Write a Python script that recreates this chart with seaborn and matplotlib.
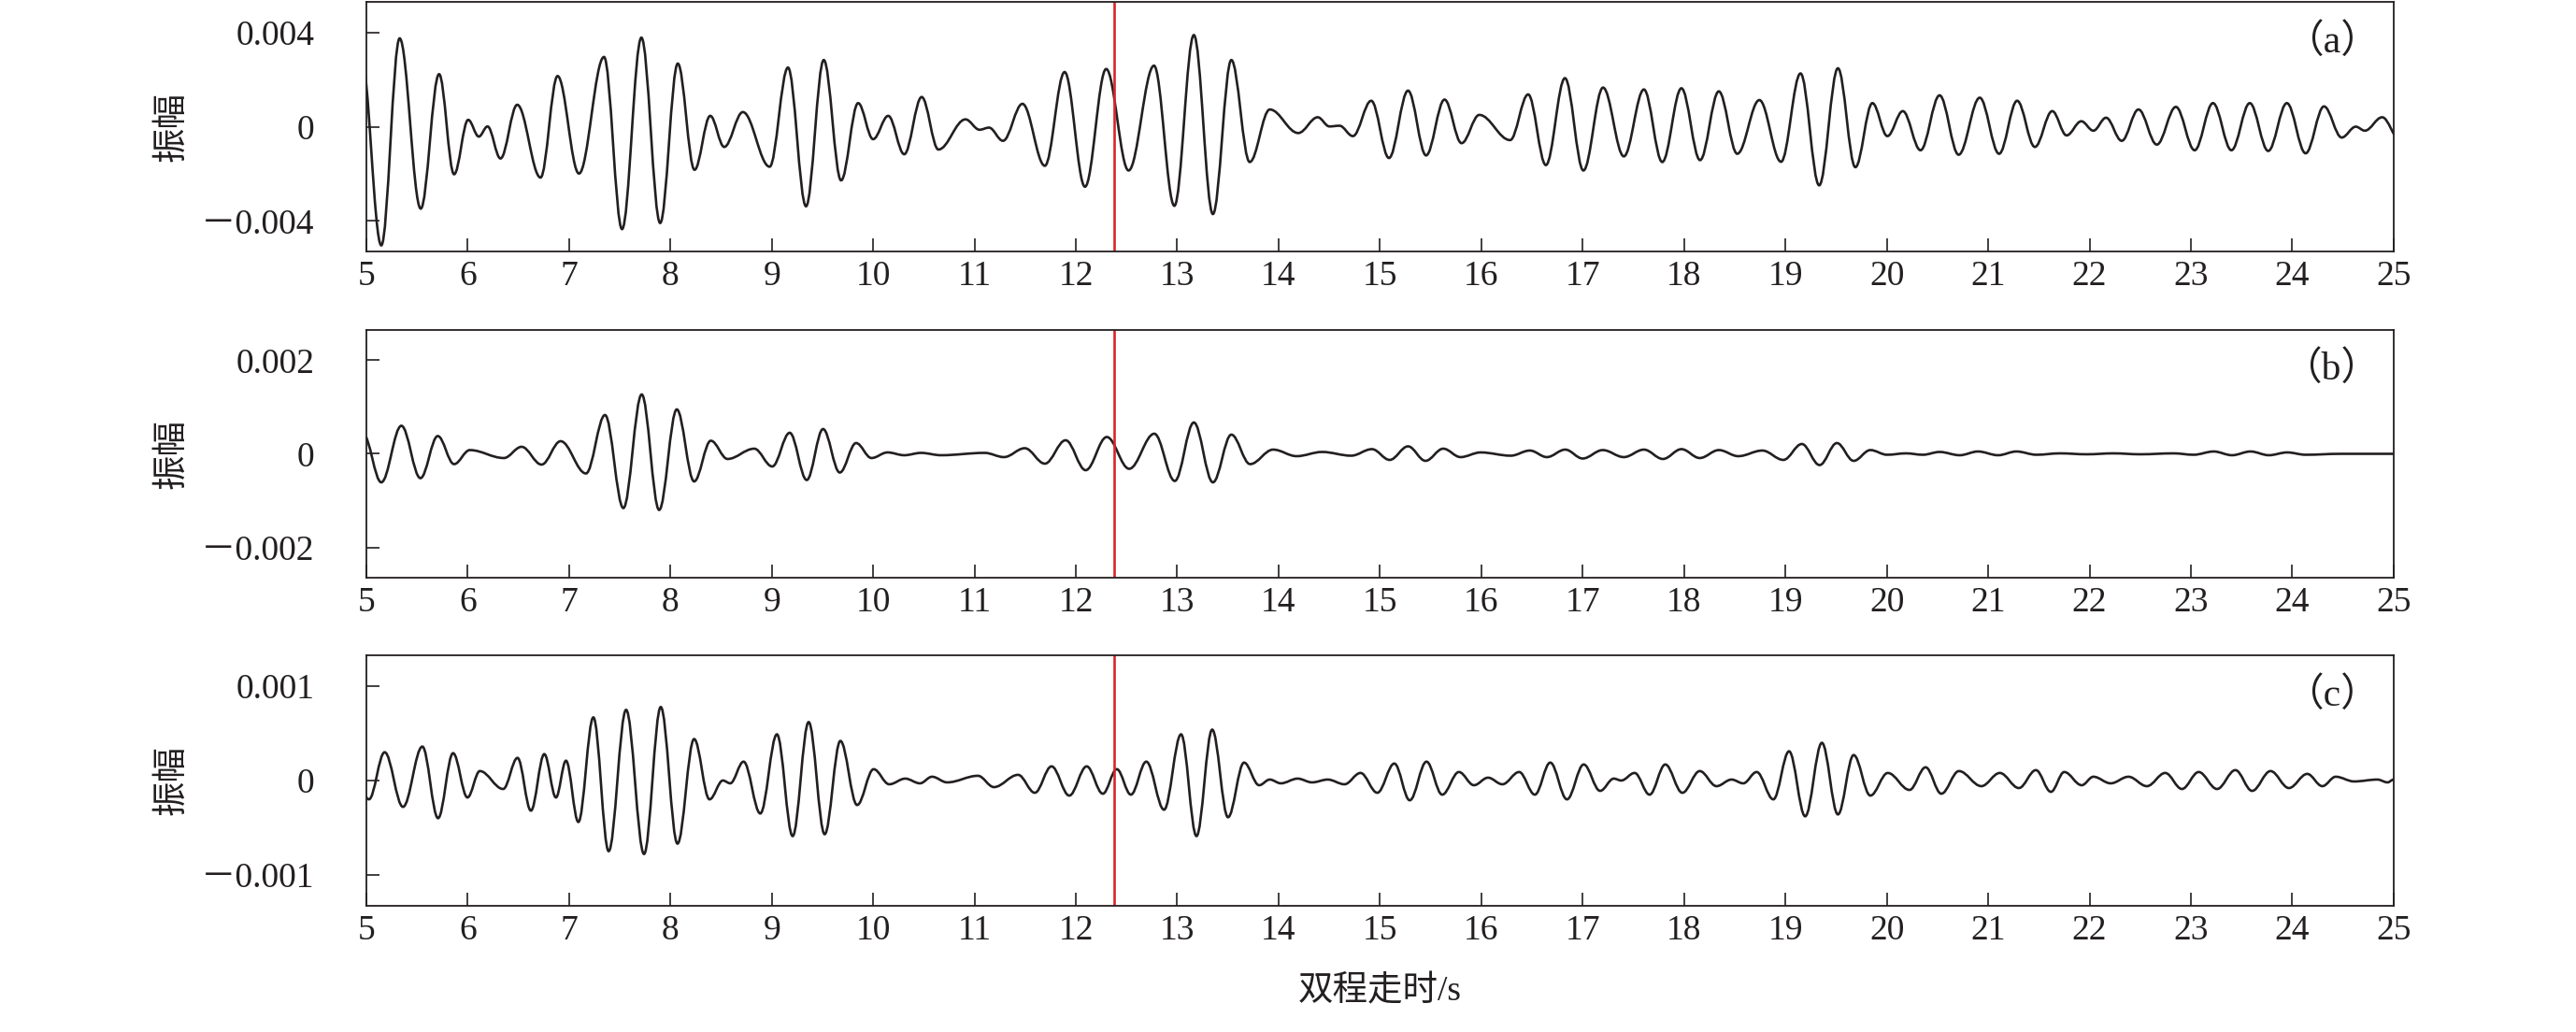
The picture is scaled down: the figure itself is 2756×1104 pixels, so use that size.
import numpy as np
import matplotlib
matplotlib.use("Agg")
import matplotlib.pyplot as plt
from matplotlib.path import Path
from matplotlib.patches import PathPatch
import seaborn as sns

# extrema of each trace: time (s) and amplitude (x1e-3)
t_a = [4.95, 5.148, 5.329, 5.537, 5.718, 5.866, 6.005, 6.110, 6.196, 6.324, 6.489, 6.719, 6.887, 7.098, 7.345,
       7.523, 7.714, 7.899, 8.073, 8.238, 8.393, 8.531, 8.715, 8.979, 9.160, 9.338, 9.513, 9.684, 9.852, 10.0,
       10.149, 10.307, 10.479, 10.644, 10.911, 11.050, 11.143, 11.281, 11.473, 11.694, 11.889, 12.090, 12.299,
       12.520, 12.771, 12.972, 13.164, 13.352, 13.534, 13.715, 13.913, 14.194, 14.386, 14.502, 14.601, 14.733,
       14.914,
       15.089, 15.277, 15.455, 15.637, 15.805, 15.980, 16.284, 16.462, 16.637, 16.825, 17.007, 17.201, 17.406,
       17.604, 17.785, 17.974, 18.158, 18.343, 18.525, 18.743, 18.957, 19.149, 19.333, 19.518, 19.690, 19.858,
       20.006,
       20.158, 20.333, 20.521, 20.709, 20.917, 21.108, 21.286, 21.461, 21.632, 21.774, 21.919, 22.038, 22.163,
       22.318, 22.483, 22.664, 22.852, 23.037, 23.218, 23.400, 23.581, 23.763, 23.947, 24.132, 24.313, 24.488,
       24.627, 24.716, 24.887, 25.06]
amp_a = [3.0, -5.04, 3.75, -3.48, 2.23, -2.02, 0.29, -0.42, 0.01, -1.35, 0.93, -2.16, 2.15, -1.99, 2.96,
         -4.35, 3.78, -4.09, 2.68, -1.83, 0.46, -0.86, 0.62, -1.70, 2.51, -3.38, 2.83, -2.28, 1.00, -0.53,
         0.46, -1.17, 1.26, -0.97, 0.31, -0.13, -0.04, -0.60, 0.97, -1.66, 2.32, -2.55, 2.45,
         -1.86, 2.59, -3.36, 3.89, -3.71, 2.83, -1.50, 0.73, -0.27, 0.40, 0.01, 0.04, -0.40,
         1.10,
         -1.33, 1.53, -1.22, 1.15, -0.70, 0.50, -0.57, 1.37, -1.63, 2.06, -1.86, 1.66, -1.26,
         1.58, -1.50, 1.63, -1.42, 1.50, -1.15, 1.13, -1.49, 2.26, -2.49, 2.48, -1.72, 1.00,
         -0.40,
         0.66, -1.00, 1.33, -1.19, 1.23, -1.15, 1.10, -0.86, 0.66, -0.37, 0.23, -0.17, 0.38,
         -0.60, 0.73, -0.76, 0.84, -1.00, 1.00, -1.00, 1.00, -1.03, 1.00, -1.13, 0.86, -0.46,
         0.00, -0.17, 0.40, -0.55]

t_b = [4.97, 5.148, 5.346, 5.534, 5.705, 5.866, 6.021, 6.357, 6.532, 6.729, 6.917, 7.167, 7.355, 7.536,
       7.717, 7.889, 8.063, 8.234, 8.399, 8.564, 8.827, 9.005, 9.177, 9.345, 9.506, 9.671, 9.832, 9.984,
       10.142, 10.307, 10.472, 10.670, 11.100, 11.291, 11.496, 11.694, 11.899, 12.097, 12.305, 12.526,
       12.774, 12.976, 13.164, 13.352, 13.534, 13.719, 13.946, 14.178, 14.429, 14.716, 14.921,
       15.096, 15.277, 15.449, 15.624, 15.795, 15.993, 16.290, 16.479, 16.647, 16.828, 17.000, 17.198,
       17.406, 17.604, 17.792, 17.974, 18.155, 18.343, 18.535, 18.772, 18.980, 19.162, 19.337, 19.508,
       19.673, 19.838, 20.003,
       20.190, 20.356, 20.521, 20.719, 20.900, 21.098, 21.279, 21.477, 21.708, 21.972, 22.236, 22.500,
       22.829, 23.027, 23.225, 23.406, 23.588, 23.769, 23.950, 24.132, 24.478, 25.0]
amp_b = [0.42, -0.61, 0.60, -0.52, 0.38, -0.22, 0.08, -0.09, 0.15, -0.23, 0.27, -0.42, 0.83, -1.16,
         1.27, -1.20, 0.95, -0.59, 0.28, -0.11, 0.11, -0.27, 0.45, -0.56, 0.53, -0.40, 0.23, -0.09,
         0.03, -0.03, 0.02, -0.03, 0.02, -0.07, 0.12, -0.21, 0.29, -0.35, 0.36, -0.32,
         0.43, -0.58, 0.67, -0.61, 0.41, -0.22, 0.09, -0.05, 0.04, -0.04, 0.10,
         -0.13, 0.16, -0.15, 0.11, -0.07, 0.03, -0.04, 0.07, -0.07, 0.09, -0.10, 0.08,
         -0.07, 0.09, -0.11, 0.10, -0.09, 0.08, -0.05, 0.07, -0.13, 0.21, -0.24, 0.23,
         -0.15, 0.08, -0.02,
         0.01, -0.02, 0.04, -0.03, 0.05, -0.03, 0.05, -0.02, 0.01, -0.01, 0.01, -0.01,
         0.01, -0.02, 0.05, -0.03, 0.05, -0.03, 0.03, -0.02, 0.0, 0.0]

t_c = [4.85, 5.026, 5.181, 5.362, 5.553, 5.708, 5.856, 5.998, 6.120, 6.350, 6.492, 6.624, 6.756, 6.871,
       6.970, 7.092, 7.240, 7.391, 7.563, 7.740, 7.905, 8.070, 8.234, 8.386, 8.518, 8.590, 8.722, 8.887,
       9.051, 9.206, 9.364, 9.522, 9.677, 9.842, 10.005,
       10.159, 10.317, 10.462, 10.581, 10.730, 11.034, 11.192, 11.430, 11.595, 11.760, 11.935, 12.107,
       12.266, 12.404, 12.543, 12.695, 12.870, 13.038, 13.190, 13.345, 13.501, 13.659, 13.808, 13.913,
       14.022, 14.188, 14.330, 14.485, 14.650, 14.808, 14.974,
       15.142, 15.294, 15.459, 15.614, 15.779, 15.927, 16.066, 16.208, 16.373, 16.528, 16.680, 16.845,
       17.010, 17.172, 17.307, 17.380, 17.512, 17.660, 17.815, 17.983, 18.155, 18.320, 18.469, 18.584,
       18.716, 18.881, 19.036, 19.195, 19.360, 19.518, 19.673, 19.838, 20.010,
       20.224, 20.383, 20.538, 20.712, 20.933, 21.115, 21.303, 21.471, 21.619, 21.751, 21.923, 22.038,
       22.209, 22.384, 22.566, 22.747, 22.912, 23.077, 23.258, 23.439, 23.604, 23.786, 23.967, 24.148,
       24.297, 24.429, 24.610, 24.841, 24.940, 25.0]
amp_c = [0.2, -0.20, 0.30, -0.28, 0.36, -0.40, 0.29, -0.18, 0.10, -0.09, 0.24, -0.32, 0.28, -0.18,
         0.21, -0.44, 0.67, -0.75, 0.75, -0.78, 0.78, -0.67, 0.44, -0.20, 0.00, -0.03, 0.20, -0.35,
         0.49, -0.59, 0.62, -0.57, 0.42, -0.26, 0.12,
         -0.04, 0.02, -0.03, 0.04, -0.02, 0.05, -0.07, 0.06, -0.13, 0.15, -0.16, 0.15,
         -0.14, 0.12, -0.15, 0.20, -0.31, 0.49, -0.59, 0.54, -0.39, 0.19, -0.05, 0.01,
         -0.03, 0.02, -0.02, 0.01, -0.04, 0.08, -0.13,
         0.18, -0.21, 0.20, -0.15, 0.09, -0.05, 0.03, -0.04, 0.09, -0.15, 0.19, -0.20,
         0.17, -0.11, 0.02, 0.00, 0.08, -0.15, 0.17, -0.13, 0.10, -0.06, 0.01, -0.03,
         0.09, -0.20, 0.31, -0.38, 0.40, -0.36, 0.27, -0.16, 0.08,
         -0.10, 0.14, -0.14, 0.10, -0.06, 0.08, -0.08, 0.11, -0.12, 0.09, -0.05, 0.04,
         -0.03, 0.04, -0.06, 0.08, -0.09, 0.09, -0.09, 0.11, -0.11, 0.10, -0.08, 0.07,
         -0.06, 0.04, -0.01, 0.01, -0.02, 0.01]

panel_names = ["（a）", "（b）", "（c）"]
ytick_vals = [[-0.004, 0, 0.004], [-0.002, 0, 0.002], [-0.001, 0, 0.001]]
ytick_text = [["－0.004", "0", "0.004"], ["－0.002", "0", "0.002"], ["－0.001", "0", "0.001"]]
ylims = [0.0053, 0.00265, 0.00133]
xticks = list(range(5, 26))
pick_time = 12.38

sns.set_style("ticks", {"xtick.direction": "in", "ytick.direction": "in"})
plt.rcParams['font.family'] = ['Liberation Serif', 'Noto Sans CJK SC']


def wave_path(t, a):
    # smooth trace through the extrema, horizontal tangent at every peak/trough
    verts = [(t[0], a[0])]
    codes = [Path.MOVETO]
    for i in range(len(t) - 1):
        dt = t[i + 1] - t[i]
        verts += [(t[i] + 0.364 * dt, a[i]), (t[i + 1] - 0.364 * dt, a[i + 1]), (t[i + 1], a[i + 1])]
        codes += [Path.CURVE4] * 3
    return Path(verts, codes)


fig = plt.figure(figsize=(27.56, 11.04), dpi=100)
boxes = [[0.1422, 0.7563, 0.787, 0.2419],
         [0.1422, 0.4402, 0.787, 0.2401],
         [0.1422, 0.1223, 0.787, 0.2428]]
traces = [(t_a, amp_a), (t_b, amp_b), (t_c, amp_c)]

for k in range(3):
    ax = fig.add_axes(boxes[k])
    tt, aa = traces[k]
    aa = np.array(aa) * 1e-3
    ax.add_patch(PathPatch(wave_path(tt, aa), facecolor='none', edgecolor='#231f20', lw=1.9))
    ax.axvline(pick_time, color='#d7262b', lw=1.9)
    ax.set_xlim(5, 25)
    ax.set_ylim(-ylims[k], ylims[k])
    ax.set_xticks(xticks)
    ax.set_xticklabels([str(v) for v in xticks])
    ax.set_yticks(ytick_vals[k])
    ax.set_yticklabels(ytick_text[k])
    ax.tick_params(axis='both', direction='in', length=10, width=1.2, colors='#231f20', labelsize=27)
    ax.tick_params(axis='y', pad=40)
    ax.tick_params(axis='x', pad=7)
    for s in ax.spines.values():
        s.set_linewidth(1.3)
        s.set_color('#231f20')
    ax.set_ylabel("振幅", fontsize=27, color='#231f20')
    ax.yaxis.set_label_coords(-0.088, 0.5)
    ax.text(0.993, 0.84, panel_names[k], transform=ax.transAxes, ha='right', va='center',
            fontsize=30, color='#231f20')
    if k == 2:
        ax.set_xlabel("双程走时/s", fontsize=27, color='#231f20', labelpad=22)

fig.savefig("out.png", dpi=100)
